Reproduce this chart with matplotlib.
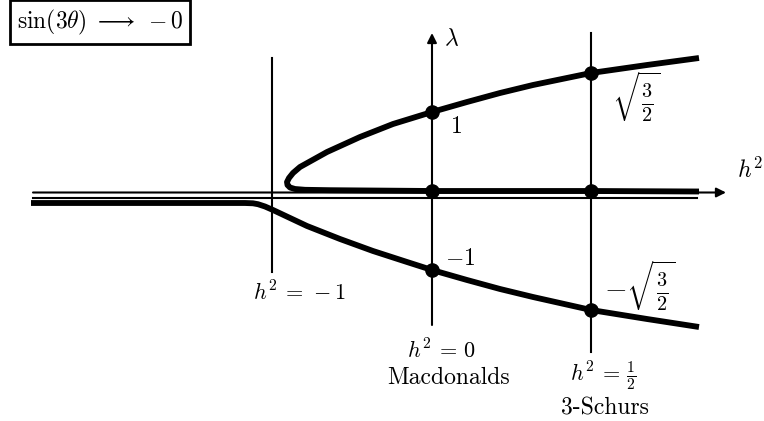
import matplotlib.pyplot as plt

plt.rcParams['mathtext.fontset'] = 'cm'
plt.rcParams['font.size'] = 17

# schematic diagram, coordinates (pixel units, y down)
vline_x = [272, 432, 591]
vline_top = [58, 33, 33]
vline_bottom = [272, 325, 352]

# upper branch + nose + middle branch
upper_x = [699, 647, 591, 533, 500, 467, 432, 393, 360, 327, 300, 293, 289, 287, 287.5, 290, 295, 305, 330, 432, 591, 699]
upper_y = [58, 65, 73, 85, 93, 102, 112, 124, 137, 152, 167, 173, 178, 182, 185, 187.5, 189, 189.8, 190.2, 191, 191, 191.5]

# lower branch
lower_x = [31, 245, 253, 258, 265, 273, 290, 307, 340, 373, 407, 432, 467, 500, 533, 591, 647, 699]
lower_y = [203, 203, 203.3, 204.2, 206.5, 210, 218, 226, 239, 251, 262, 270, 280, 289, 297, 310, 319, 327]

dot_x = [432, 591, 432, 591, 432, 591]
dot_y = [112, 73, 191, 191, 270, 310]

fig = plt.figure(figsize=(7.64, 4.21), dpi=100)
ax = fig.add_axes([0, 0, 1, 1])
ax.set_xlim(0, 764)
ax.set_ylim(421, 0)
ax.axis('off')

arrow = dict(arrowstyle='-|>', lw=1.5, color='black', mutation_scale=14, shrinkA=0, shrinkB=0)

# horizontal axis (with arrow) and the second thin line below it
ax.annotate('', xy=(726, 192.5), xytext=(33, 192.5), arrowprops=arrow)
ax.plot([33, 697], [197.5, 197.5], color='black', lw=1.5)

# vertical lines; the middle one is the lambda axis
for x, t, b in zip(vline_x, vline_top, vline_bottom):
    if x == 432:
        ax.annotate('', xy=(x, t), xytext=(x, b), arrowprops=arrow)
    else:
        ax.plot([x, x], [t, b], color='black', lw=1.5)

ax.plot(upper_x, upper_y, color='black', lw=4.2, solid_capstyle='butt', solid_joinstyle='round')
ax.plot(lower_x, lower_y, color='black', lw=4.2, solid_capstyle='butt', solid_joinstyle='round')
ax.plot(dot_x, dot_y, 'o', color='black', ms=9.5)

# labels
ax.text(444, 38, r'$\lambda$', ha='left', va='center')
ax.text(450, 126, r'$1$', ha='left', va='center')
ax.text(612, 97, r'$\sqrt{\frac{3}{2}}$', ha='left', va='center', fontsize=21)
ax.text(445, 258, r'$-1$', ha='left', va='center')
ax.text(604, 286, r'$-\sqrt{\frac{3}{2}}$', ha='left', va='center', fontsize=21)
ax.text(737, 170, r'$h^2$', ha='left', va='center')
ax.text(299, 292, r'$h^2\,=\,-1$', ha='center', va='center', fontsize=16)
ax.text(441, 350, r'$h^2\,=\,0$', ha='center', va='center', fontsize=16)
ax.text(449, 378, 'Macdonalds', family='cmr10', ha='center', va='center')
ax.text(603, 376, r'$h^2\,=\,\frac{1}{2}$', ha='center', va='center', fontsize=16)
ax.text(605, 408, '3-Schurs', family='cmr10', ha='center', va='center')

ax.text(100, 22, r'$\sin(3\theta)\;\longrightarrow\;-0$', ha='center', va='center',
        bbox=dict(boxstyle='square,pad=0.3', fc='white', ec='black', lw=2))

fig.savefig('out.png', dpi=100)
